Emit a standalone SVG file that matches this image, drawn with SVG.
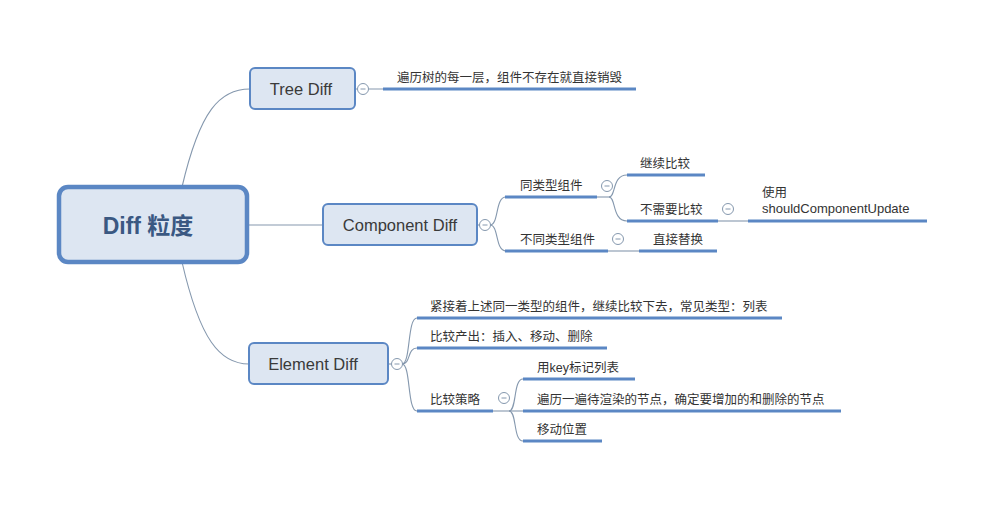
<svg xmlns="http://www.w3.org/2000/svg" width="998" height="510" viewBox="0 0 998 510">
<style>
.bg{fill:#ffffff}
.root rect{fill:#dde6f2;stroke:#5b87c4;stroke-width:4.5}
.node rect{fill:#dde6f2;stroke:#5b87c4;stroke-width:2}
.rt{font-family:"Liberation Sans","Noto Sans CJK SC",sans-serif;font-size:23px;font-weight:bold;fill:#3a5882;text-anchor:middle}
.nt{font-family:"Liberation Sans","Noto Sans CJK SC",sans-serif;font-size:16.5px;fill:#3a3a3a;text-anchor:middle}
.lt{font-family:"Liberation Sans","Noto Sans CJK SC",sans-serif;font-size:12.5px;fill:#333333}
.lt.en{font-size:13px}
.ul{stroke:#5b87c4;stroke-width:3;fill:none}
.cn{stroke:#8598ae;stroke-width:1.1;fill:none}
.col circle{fill:#ffffff;stroke:#8598ae;stroke-width:1}
.col line{stroke:#8598ae;stroke-width:1}
</style>
<rect class="bg" x="0" y="0" width="998" height="510"/>
<g id="connectors">
<path class="cn" d="M182,187 C200,110 220,89 250,89"/>
<path class="cn" d="M249,225 L323,225"/>
<path class="cn" d="M182,262 C200,340 220,364 249,364"/>
<path class="cn" d="M355,89 L357.5,89 M368.5,89 L383,89"/>
<path class="cn" d="M477,225 L479.5,225"/>
<path class="cn" d="M490,225 C499,225 495,197 506,197"/>
<path class="cn" d="M490,225 C499,225 495,251 506,251"/>
<path class="cn" d="M597,197 L610,197"/>
<path class="cn" d="M609,197 C616,197 612,175 627,175"/>
<path class="cn" d="M609,197 C616,197 612,221 627,221"/>
<path class="cn" d="M608,251 L639,251"/>
<path class="cn" d="M718,221 L748,221"/>
<path class="cn" d="M388,364 L391.5,364"/>
<path class="cn" d="M402,364 C411,364 407,318 417,318"/>
<path class="cn" d="M402,364 C411,364 407,348 417,348"/>
<path class="cn" d="M402,364 C411,364 407,411 417,411"/>
<path class="cn" d="M493,411 L523,411"/>
<path class="cn" d="M509,411 C517,411 513,379 523,379"/>
<path class="cn" d="M509,411 C517,411 513,441 523,441"/>
</g>
<g id="root" class="root">
<rect x="59" y="187" width="188" height="75" rx="9"/>
<text class="rt" x="148" y="234">Diff 粒度</text>
</g>
<g id="tree-diff" class="node">
<rect x="250" y="68" width="105" height="41" rx="5"/>
<text class="nt" x="301" y="95">Tree Diff</text>
</g>
<g id="component-diff" class="node">
<rect x="323" y="204" width="154" height="41" rx="5"/>
<text class="nt" x="400" y="231">Component Diff</text>
</g>
<g id="element-diff" class="node">
<rect x="249" y="343" width="139" height="41" rx="5"/>
<text class="nt" x="313" y="370">Element Diff</text>
</g>
<g id="tree-destroy">
<path class="ul" d="M383,89 L636,89"/>
<text class="lt" x="397" y="82">遍历树的每一层，组件不存在就直接销毁</text>
</g>
<g id="same-type">
<path class="ul" d="M505,197 L597,197"/>
<text class="lt" x="520" y="190">同类型组件</text>
</g>
<g id="continue-compare">
<path class="ul" d="M627,175 L705,175"/>
<text class="lt" x="640" y="168">继续比较</text>
</g>
<g id="no-compare">
<path class="ul" d="M627,221 L718,221"/>
<text class="lt" x="640" y="214">不需要比较</text>
</g>
<g id="should-update">
<path class="ul" d="M748,221 L927,221"/>
<text class="lt" x="762" y="197">使用</text>
<text class="lt en" x="762" y="213">shouldComponentUpdate</text>
</g>
<g id="diff-type">
<path class="ul" d="M505,251 L608,251"/>
<text class="lt" x="520" y="244">不同类型组件</text>
</g>
<g id="replace">
<path class="ul" d="M639,251 L717,251"/>
<text class="lt" x="653" y="244">直接替换</text>
</g>
<g id="element-same-level">
<path class="ul" d="M417,318 L782,318"/>
<text class="lt" x="430" y="311">紧接着上述同一类型的组件，继续比较下去，常见类型：列表</text>
</g>
<g id="element-output">
<path class="ul" d="M417,348 L607,348"/>
<text class="lt" x="430" y="341">比较产出：插入、移动、删除</text>
</g>
<g id="element-strategy">
<path class="ul" d="M417,411 L493,411"/>
<text class="lt" x="430" y="404">比较策略</text>
</g>
<g id="key-mark">
<path class="ul" d="M523,379 L635,379"/>
<text class="lt" x="537" y="372">用key标记列表</text>
</g>
<g id="traverse">
<path class="ul" d="M523,411 L841,411"/>
<text class="lt" x="537" y="404">遍历一遍待渲染的节点，确定要增加的和删除的节点</text>
</g>
<g id="move-position">
<path class="ul" d="M523,441 L602,441"/>
<text class="lt" x="537" y="434">移动位置</text>
</g>
<g id="collapse-buttons" class="col">
<circle cx="363" cy="89" r="5.5"/><line x1="360.5" y1="89" x2="365.5" y2="89"/>
<circle cx="485" cy="225" r="5.5"/><line x1="482.5" y1="225" x2="487.5" y2="225"/>
<circle cx="607" cy="186" r="5.5"/><line x1="604.5" y1="186" x2="609.5" y2="186"/>
<circle cx="728" cy="209" r="5.5"/><line x1="725.5" y1="209" x2="730.5" y2="209"/>
<circle cx="618" cy="239" r="5.5"/><line x1="615.5" y1="239" x2="620.5" y2="239"/>
<circle cx="397" cy="364" r="5.5"/><line x1="394.5" y1="364" x2="399.5" y2="364"/>
<circle cx="504" cy="398" r="5.5"/><line x1="501.5" y1="398" x2="506.5" y2="398"/>
</g>
</svg>
